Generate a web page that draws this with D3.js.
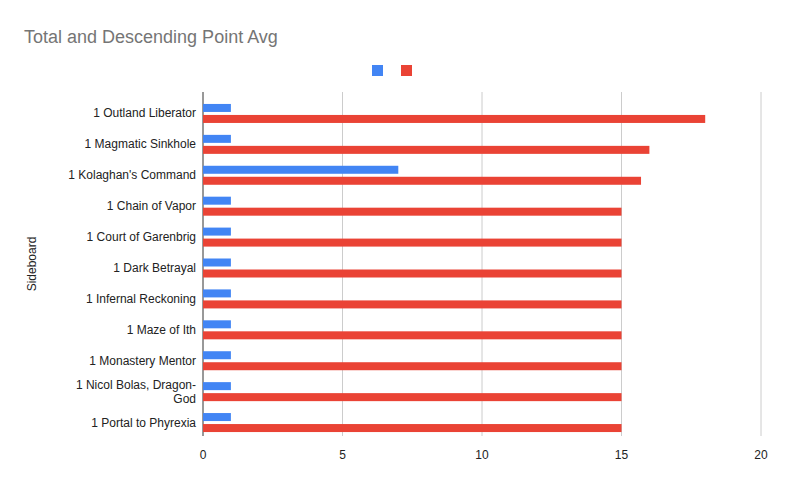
<!DOCTYPE html>
<html>
<head>
<meta charset="UTF-8">
<script src="https://d3js.org/d3.v7.min.js"></script>
<style>
  body { margin: 0; background: #fff; }
  text { font-family: "Liberation Sans", Arial, sans-serif; }
</style>
</head>
<body>
<svg id="chart" width="785" height="486"></svg>
<script>
const categories = ["1 Outland Liberator", "1 Magmatic Sinkhole", "1 Kolaghan's Command", "1 Chain of Vapor",
  "1 Court of Garenbrig", "1 Dark Betrayal", "1 Infernal Reckoning", "1 Maze of Ith",
  "1 Monastery Mentor", "1 Nicol Bolas, Dragon-God", "1 Portal to Phyrexia"];
const totalVals = [1, 1, 7, 1, 1, 1, 1, 1, 1, 1, 1];
const avgVals = [18, 16, 15.7, 15, 15, 15, 15, 15, 15, 15, 15];
const xTicks = [0, 5, 10, 15, 20];
const colors = ["#4285f4", "#ea4335"];

const svg = d3.select("#chart");
const x = d3.scaleLinear().domain([0, 20]).range([203, 761]);
const y = d3.scaleBand().domain(categories).range([98, 438]);

svg.append("text").attr("x", 24).attr("y", 43).attr("font-size", 18).attr("fill", "#757575")
  .text("Total and Descending Point Avg");

colors.forEach((c, i) => {
  svg.append("rect").attr("x", 372 + i * 29).attr("y", 65).attr("width", 11).attr("height", 11).attr("fill", c);
});

svg.selectAll("line.grid").data(xTicks).enter().append("line")
  .attr("x1", d => x(d)).attr("x2", d => x(d)).attr("y1", 92).attr("y2", 436)
  .attr("stroke", d => d === 0 ? "#333" : "#ccc").attr("stroke-width", 1);

svg.selectAll("text.xt").data(xTicks).enter().append("text")
  .attr("x", d => x(d)).attr("y", 459).attr("text-anchor", "middle")
  .attr("font-size", 12).attr("fill", "#222").text(d => d);

const bh = 8;
svg.selectAll("rect.t").data(categories).enter().append("rect")
  .attr("x", x(0)).attr("y", d => y(d) + y.bandwidth() / 2 - bh - 1.5)
  .attr("width", (d, i) => x(totalVals[i]) - x(0)).attr("height", bh).attr("fill", colors[0]);
svg.selectAll("rect.a").data(categories).enter().append("rect")
  .attr("x", x(0)).attr("y", d => y(d) + y.bandwidth() / 2 + 1.5)
  .attr("width", (d, i) => x(avgVals[i]) - x(0)).attr("height", bh).attr("fill", colors[1]);

categories.forEach(c => {
  const cy = y(c) + y.bandwidth() / 2;
  const lines = c === "1 Nicol Bolas, Dragon-God" ? ["1 Nicol Bolas, Dragon-", "God"] : [c];
  lines.forEach((l, j) => {
    svg.append("text").attr("x", 196).attr("y", cy + 4 + (j - (lines.length - 1) / 2) * 14)
      .attr("text-anchor", "end").attr("font-size", 12).attr("fill", "#222").text(l);
  });
});

svg.append("text").attr("transform", "translate(36,264) rotate(-90)").attr("text-anchor", "middle")
  .attr("font-size", 12).attr("fill", "#222").text("Sideboard");
</script>
</body>
</html>
